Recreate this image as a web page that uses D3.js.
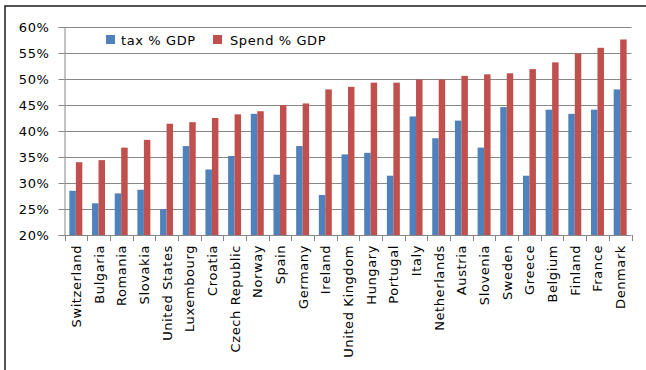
<!DOCTYPE html>
<html><head><meta charset="utf-8">
<script src="https://cdn.jsdelivr.net/npm/d3@7"></script>
<style>
html,body{margin:0;padding:0;background:#fff;}
svg{display:block;}
text{font-family:"DejaVu Sans",sans-serif;font-size:13px;fill:#000;letter-spacing:0.6px;}
</style></head>
<body>
<svg id="chart" width="646" height="370"></svg>
<script>
const countries = ["Switzerland","Bulgaria","Romania","Slovakia","United States","Luxembourg","Croatia","Czech Republic","Norway","Spain","Germany","Ireland","United Kingdom","Hungary","Portugal","Italy","Netherlands","Austria","Slovenia","Sweden","Greece","Belgium","Finland","France","Denmark"];
const taxPct   = [28.5,26.1,28.0,28.7,25.0,37.1,32.6,35.2,43.3,31.6,37.1,27.7,35.5,35.8,31.4,42.8,38.6,42.0,36.8,44.6,31.4,44.1,43.3,44.1,48.0];
const spendPct = [34.0,34.4,36.8,38.3,41.4,41.7,42.5,43.2,43.8,45.0,45.3,48.0,48.5,49.3,49.3,49.9,49.9,50.6,50.9,51.1,51.9,53.2,54.9,56.0,57.6];
const seriesNames = ["tax % GDP","Spend % GDP"];
const seriesColors = ["#4F81BD","#C0504D"];
const yTicks = [20,25,30,35,40,45,50,55,60];
</script>
<script>
(function(){
const svg = d3.select("#chart");
// outer frame
svg.append("rect").attr("x",5).attr("y",6).attr("width",700).attr("height",400)
  .attr("fill","none").attr("stroke","#2a2a2a").attr("stroke-width",1.6);

const pL = 64.5, pR = 631.5, pT = 27, pB = 235;
const data = countries.map((c,i)=>({c, v:[taxPct[i], spendPct[i]]}));

const x = d3.scaleBand().domain(countries).range([pL,pR])
  .paddingInner(1.5/3.5).paddingOuter(0.75/3.5);
const xs = d3.scaleBand().domain([0,1]).range([0,x.bandwidth()]);
const y = d3.scaleLinear().domain([20,60]).range([pB,pT]);

// gridlines
svg.append("g").selectAll("line").data(yTicks.slice(1)).join("line")
  .attr("x1",pL).attr("x2",pR)
  .attr("y1",d=>Math.round(y(d))+0.5).attr("y2",d=>Math.round(y(d))+0.5)
  .attr("stroke","#878787").attr("stroke-width",1);

// bars
const g = svg.append("g");
data.forEach(d=>{
  d.v.forEach((v,k)=>{
    g.append("rect").attr("x",x(d.c)+xs(k)).attr("width",xs.bandwidth())
      .attr("y",y(v)).attr("height",y(20)-y(v)).attr("fill",seriesColors[k]);
  });
});

// y axis
const yAxis = d3.axisLeft(y).tickValues(yTicks).tickFormat(d=>d+"%").tickSize(6).tickPadding(9);
const ya = svg.append("g").attr("transform",`translate(${pL},0)`).call(yAxis);
ya.select(".domain").attr("stroke","#878787");
ya.selectAll(".tick line").attr("stroke","#878787");
ya.selectAll("text").attr("font-family",null).attr("font-size",null).attr("fill","#000");

// x axis
const step = (pR-pL)/countries.length;
const xa = svg.append("g").attr("transform",`translate(0,${pB})`);
xa.append("line").attr("x1",pL).attr("x2",pR).attr("y1",0.5).attr("y2",0.5).attr("stroke","#878787");
xa.selectAll("line.tk").data(d3.range(countries.length+1)).join("line").attr("class","tk")
  .attr("x1",i=>Math.round(pL+i*step)+0.5).attr("x2",i=>Math.round(pL+i*step)+0.5).attr("y1",0).attr("y2",6).attr("stroke","#878787");
xa.selectAll("text").data(countries).join("text")
  .attr("transform",d=>`translate(${x(d)+x.bandwidth()/2+5},10) rotate(-90)`)
  .attr("text-anchor","end").text(d=>d);

// legend
const lg = svg.append("g");
const lx = [106,213], tx = [121,230];
seriesNames.forEach((n,k)=>{
  lg.append("rect").attr("x",lx[k]).attr("y",35).attr("width",9).attr("height",9).attr("fill",seriesColors[k]);
  lg.append("text").attr("x",tx[k]).attr("y",44.5).text(n);
});
})();
</script>
</body></html>
